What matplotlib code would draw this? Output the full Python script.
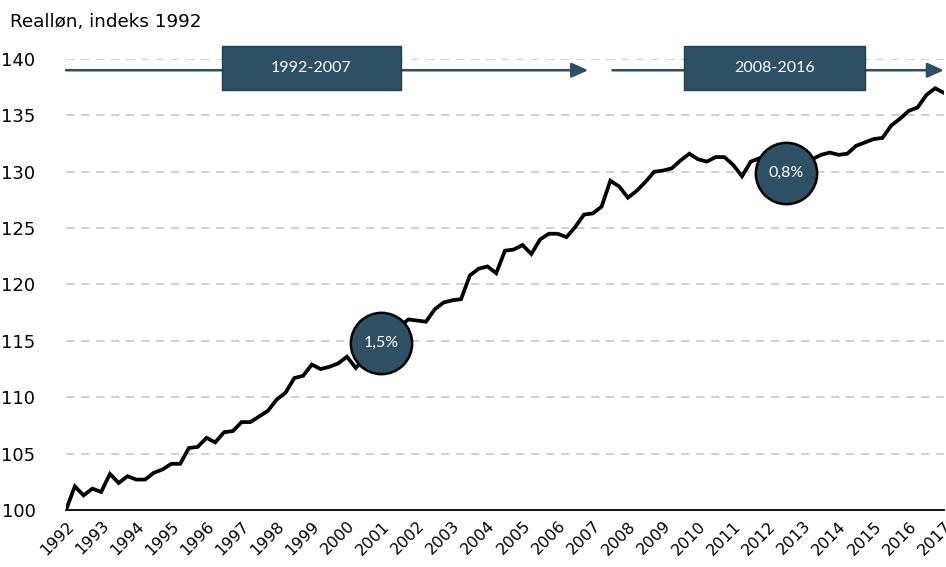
import matplotlib.pyplot as plt
import numpy as np

# quarterly real wage index, 1992Q1 = 100
values = [
    100.0, 102.1, 101.3, 101.9,
    101.6, 103.2, 102.4, 103.0,
    102.7, 102.7, 103.3, 103.6,
    104.1, 104.1, 105.5, 105.6,
    106.4, 106.0, 106.9, 107.0,
    107.8, 107.8, 108.3, 108.8,
    109.8, 110.4, 111.7, 111.9,
    112.9, 112.5, 112.7, 113.0,
    113.6, 112.6, 113.4, 114.2,
    115.0, 115.6, 116.3, 116.9,
    116.8, 116.7, 117.8, 118.4,
    118.6, 118.7, 120.8, 121.4,
    121.6, 121.0, 123.0, 123.1,
    123.5, 122.7, 124.0, 124.5,
    124.5, 124.2, 125.1, 126.2,
    126.3, 126.9, 129.2, 128.7,
    127.7, 128.3, 129.1, 130.0,
    130.1, 130.3, 131.0, 131.6,
    131.1, 130.9, 131.3, 131.3,
    130.6, 129.6, 130.9, 131.2,
    131.3, 131.1, 130.9, 131.0,
    131.0, 131.1, 131.5, 131.7,
    131.5, 131.6, 132.3, 132.6,
    132.9, 133.0, 134.1, 134.7,
    135.4, 135.7, 136.8, 137.4,
    137.0,
]
start_year = 1992
years = list(range(1992, 2018))
yticks = [100, 105, 110, 115, 120, 125, 130, 135, 140]

periods = ["1992-2007", "2008-2016"]
period_arrows = [(1992.0, 2006.87), (2007.56, 2017.0)]
period_boxes = [(1996.44, 2001.54), (2009.6, 2014.76)]
growth_labels = ["1,5%", "0,8%"]
growth_pos = [(2000.97, 114.8), (2012.5, 129.9)]

dark = "#2d5064"

x = start_year + np.arange(len(values)) / 4

fig = plt.figure(figsize=(9.46, 5.67), dpi=100)
ax = fig.add_axes([0.0698, 0.1005, 0.928, 0.7955])

for y in yticks[1:]:
    ax.axhline(y, color="#c8c8c8", lw=1.2, ls=(0, (5, 4)), zorder=1)

ax.plot(x, values, color="black", lw=2.7, zorder=3, solid_joinstyle="miter")

ax.set_xlim(1992, 2017)
ax.set_ylim(100, 140)
ax.set_yticks(yticks)
ax.set_xticks(years)
ax.set_xticklabels([str(y) for y in years], rotation=45, ha="right",
                   va="top", rotation_mode="anchor")
ax.tick_params(axis="both", length=0, labelsize=13)
ax.tick_params(axis="y", pad=22)
ax.tick_params(axis="x", pad=6, labelsize=11.5)

for s in ["left", "right", "top"]:
    ax.spines[s].set_visible(False)
ax.spines["bottom"].set_linewidth(1.3)
ax.spines["bottom"].set_zorder(4)

# period arrows and boxes
for (x0, x1), (b0, b1), lab in zip(period_arrows, period_boxes, periods):
    ax.annotate("", xy=(x1, 139.0), xytext=(x0, 139.0),
                arrowprops=dict(arrowstyle="-|>,head_length=1.0,head_width=0.45",
                                color=dark, lw=1.8, shrinkA=0, shrinkB=0),
                annotation_clip=False, zorder=5)
    rect = plt.Rectangle((b0, 137.27), b1 - b0, 3.9, facecolor=dark,
                         edgecolor="#22404f", lw=1, clip_on=False, zorder=6)
    ax.add_patch(rect)
    ax.text((b0 + b1) / 2, 139.2, lab, color="white", ha="center", va="center",
            fontsize=11.5, family="Lato", zorder=7)

# growth circles
for (cx, cy), lab in zip(growth_pos, growth_labels):
    ax.scatter([cx], [cy], s=1950, color=dark, edgecolor="black", lw=1.8,
               zorder=8, clip_on=False)
    ax.text(cx, cy, lab, color="white", ha="center", va="center",
            fontsize=11.5, family="Lato", zorder=9)

fig.text(0.0106, 1 - 22 / 567, "Realløn, indeks 1992", fontsize=13.2,
         ha="left", va="center")

fig.savefig("out.png", dpi=100)
